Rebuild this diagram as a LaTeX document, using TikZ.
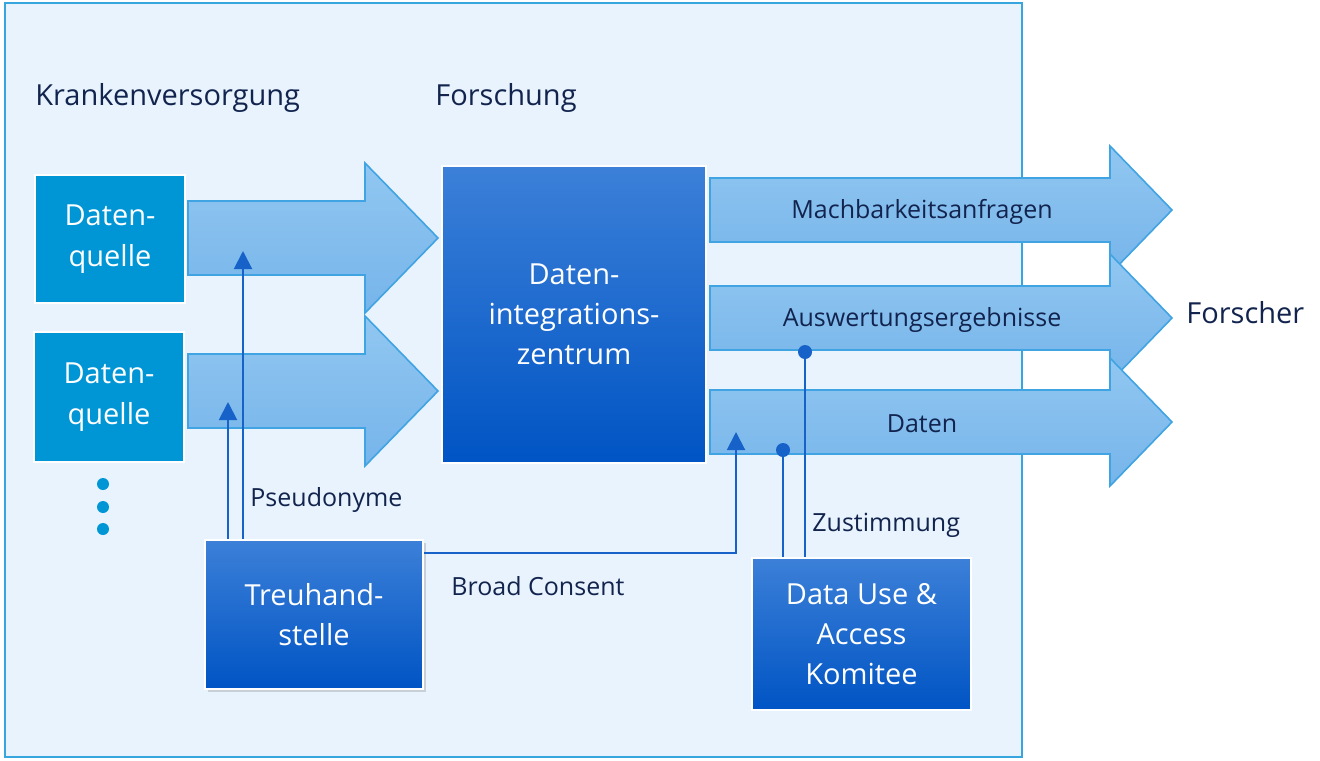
\documentclass[tikz,border=0pt]{standalone}
\usepackage{fontspec}
\setmainfont{Open Sans}
\usepackage{tikz}
\usetikzlibrary{arrows.meta, positioning, shadows}
\definecolor{framefill}{RGB}{232,243,253}
\definecolor{frameline}{RGB}{56,166,222}
\definecolor{quellblue}{RGB}{0,150,214}
\definecolor{boxtop}{RGB}{60,128,216}
\definecolor{boxbot}{RGB}{0,84,196}
\definecolor{flowtop}{RGB}{145,199,241}
\definecolor{flowbot}{RGB}{118,180,234}
\definecolor{flowline}{RGB}{64,164,226}
\definecolor{linkblue}{RGB}{22,98,200}
\definecolor{labelnavy}{RGB}{18,36,78}

\tikzset{
  quelle/.style={fill=quellblue, draw=white, line width=1pt, text=white,
    font=\fontsize{14.5}{20.5}\selectfont, align=center,
    minimum width=75pt, minimum height=64pt},
  darkbox/.style={top color=boxtop, bottom color=boxbot, draw=white,
    line width=0.8pt, text=white, font=\fontsize{14.5}{20}\selectfont,
    align=center},
  flow/.style={top color=flowtop, bottom color=flowbot, draw=flowline,
    line width=0.8pt},
  link/.style={draw=linkblue, line width=1pt},
  tip/.style={-{Triangle[width=9pt,length=9pt]}},
  tag/.style={text=labelnavy, font=\fontsize{12.5}{15}\selectfont, inner sep=0pt},
  heading/.style={text=labelnavy, font=\fontsize{14.5}{17}\selectfont, inner sep=0pt},
}

\begin{document}
\begin{tikzpicture}[x=0.5pt, y=-0.5pt]
\useasboundingbox (0,0) rectangle (1320,760);
% frame
\draw[fill=framefill, draw=frameline, line width=1pt] (5,3) rectangle (1022,757);

\node[heading, anchor=west] (kv) at (35,98) {Krankenversorgung};
\node[heading, anchor=west] (fo) at (435,98) {Forschung};

% arrows into the centre
\foreach \yc in {238,391}
  \draw[flow] (188,\yc-37) -- (365,\yc-37) -- (365,\yc-75) -- (438,\yc)
    -- (365,\yc+75) -- (365,\yc+37) -- (188,\yc+37) -- cycle;

% arrows out to the researcher
\foreach \yc/\lbl [count=\i] in {210/Machbarkeitsanfragen,
    318/Auswertungsergebnisse, 422/Daten}
{
  \draw[flow] (710,\yc-32) -- (1110,\yc-32) -- (1110,\yc-64) -- (1172,\yc)
    -- (1110,\yc+64) -- (1110,\yc+32) -- (710,\yc+32) -- cycle;
  \node[tag] (out\i) at (922,\yc+2) {\lbl};
}
\node[heading, anchor=west] (fr) at (1186,313) {Forscher};

% boxes
\node[quelle] (dq1) at (110,239) {Daten-\\quelle};
\node[quelle, minimum height=65pt] (dq2) at (109,397) {Daten-\\quelle};
\foreach \dy in {484,507,529}
  \fill[quellblue] (103,\dy) circle (3pt);

\node[darkbox, minimum width=132pt, minimum height=148.5pt] (diz)
  at (574,314.5) {Daten-\\integrations-\\zentrum};
\node[darkbox, minimum width=109pt, minimum height=74.5pt,
  drop shadow={opacity=0.3, shadow xshift=1.5pt, shadow yshift=-1.5pt}] (ths)
  at (314,614.5) {Treuhand-\\stelle};
\node[darkbox, minimum width=109.5pt, minimum height=76pt] (duac)
  at (861.5,634) {Data Use \&\\Access\\Komitee};

% connectors
\coordinate (ps1) at (243,251);
\coordinate (ps2) at (228,402);
\draw[link, tip] (ps1 |- ths.north) -- (ps1);
\draw[link, tip] (ps2 |- ths.north) -- (ps2);
\node[tag, anchor=west] (pn) at (250,500) {Pseudonyme};

\coordinate (bc) at (736,432);
\coordinate (bcturn) at (736,553);
\draw[link, tip] (ths.east |- bcturn) -- (bcturn) -- (bc);
\node[tag, anchor=west] (bcl) at (451,586) {Broad Consent};

\coordinate (zu1) at (783,450);
\coordinate (zu2) at (805,352);
\draw[link] (zu1 |- duac.north) -- (zu1);
\draw[link] (zu2 |- duac.north) -- (zu2);
\fill[linkblue] (zu1) circle (3.5pt);
\fill[linkblue] (zu2) circle (3.5pt);
\node[tag, anchor=west] (zl) at (812,525) {Zustimmung};
%
\end{tikzpicture}
\end{document}
